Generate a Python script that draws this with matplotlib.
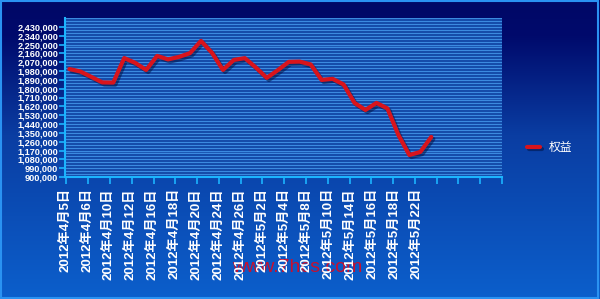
import matplotlib
matplotlib.use('Agg')
import matplotlib.pyplot as plt
import matplotlib.patheffects as pe
from matplotlib.colors import LinearSegmentedColormap
from matplotlib.patches import Rectangle
import numpy as np

plt.rcParams['font.family'] = ['Liberation Sans', 'Noto Sans CJK SC']

# daily equity, labels shown on every other day
dates = ['2012年4月5日', '2012年4月5日', '2012年4月6日', '2012年4月9日',
         '2012年4月10日', '2012年4月11日', '2012年4月12日', '2012年4月13日',
         '2012年4月16日', '2012年4月17日', '2012年4月18日', '2012年4月19日',
         '2012年4月20日', '2012年4月23日', '2012年4月24日', '2012年4月25日',
         '2012年4月26日', '2012年4月27日', '2012年5月2日', '2012年5月3日',
         '2012年5月4日', '2012年5月7日', '2012年5月8日', '2012年5月9日',
         '2012年5月10日', '2012年5月11日', '2012年5月14日', '2012年5月15日',
         '2012年5月16日', '2012年5月17日', '2012年5月18日', '2012年5月21日',
         '2012年5月22日', '2012年5月23日']
equity = [2000000, 1975000, 1920000, 1864000, 1862000, 2112000, 2063000,
          1991000, 2134000, 2098000, 2124000, 2162000, 2287000, 2166000,
          1991000, 2093000, 2111000, 2016000, 1910000, 1988000, 2073000,
          2076000, 2047000, 1889000, 1900000, 1843000, 1655000, 1583000,
          1655000, 1599000, 1328000, 1124000, 1155000, 1308000]
series_name = '权益'
yticks = np.arange(900000, 2430001, 90000)
ylim = (900000, 2520000)

fig = plt.figure(figsize=(6, 2.99), dpi=100)

# background gradient + frame
bg = fig.add_axes([0, 0, 1, 1], zorder=-10)
cmap = LinearSegmentedColormap.from_list(
    'bg', [(0, '#000866'), (0.12, '#000a6c'), (0.45, '#0a3da2'), (1, '#0c5fcc')])
bg.imshow(np.linspace(0, 1, 256).reshape(-1, 1), aspect='auto', cmap=cmap,
          extent=[0, 1, 0, 1], origin='upper')
bg.add_patch(Rectangle((0.002, 0.005), 0.995, 0.991, fill=False,
                       edgecolor='#2a92f2', lw=1.5))
bg.set_xlim(0, 1)
bg.set_ylim(0, 1)
bg.axis('off')

fig.text(297 / 600, 1 - 268 / 299, 'www.7hcs.com', color='#c8102e',
         fontsize=14, ha='center', va='center', zorder=-1)

ax = fig.add_axes([65 / 600, 1 - 177 / 299, 437 / 600, 159 / 299])
ax.set_facecolor('#0c3d9e')

x = np.arange(len(equity))
ax.plot(x, equity, color='#d8141c', lw=3, solid_capstyle='round',
        solid_joinstyle='round', label=series_name, zorder=3,
        path_effects=[pe.SimpleLineShadow(offset=(1.5, -1.5),
                                          shadow_color='#00103c', alpha=0.5),
                      pe.Normal()])

xlim = (-0.27, 39.45)
ax.set_xlim(xlim)
ax.set_ylim(ylim)

# y axis
ax.set_yticks(yticks)
ax.set_yticklabels([f'{v:,}' for v in yticks], color='white',
                   fontweight='bold', fontsize=6.6)
ax.set_yticks(np.arange(ylim[0], ylim[1] + 1, 30000), minor=True)
ax.grid(which='both', axis='y', color='#3b8ae0', lw=1.0, zorder=1)
ax.set_axisbelow(True)
ax.tick_params(axis='y', which='major', direction='out', length=4, width=1.2,
               color='#1cb4ff', pad=1)
ax.tick_params(axis='y', which='minor', length=0)

# x axis: labels on every other day, tick marks evenly spaced
ax.set_xticks(x[::2] - 0.4)
ax.set_xticklabels(dates[::2], rotation=90, color='white', fontweight='bold',
                   fontsize=9.5)
ax.set_xticks(np.linspace(xlim[0], xlim[1], 21), minor=True)
ax.tick_params(axis='x', which='major', length=0, pad=8)
ax.tick_params(axis='x', which='minor', direction='out', length=5, width=1.2,
               color='#1cb4ff')

for s in ('top', 'right'):
    ax.spines[s].set_visible(False)
for s in ('left', 'bottom'):
    ax.spines[s].set_color('#1cb4ff')
    ax.spines[s].set_linewidth(1.5)

leg = ax.legend(loc='center left', bbox_to_anchor=(527 / 600, 1 - 148 / 299),
                bbox_transform=fig.transFigure, frameon=False, borderpad=0,
                borderaxespad=0, handlelength=1.1, handletextpad=0.75,
                fontsize=8.5, labelcolor='white')

fig.savefig('out.png', dpi=100)
